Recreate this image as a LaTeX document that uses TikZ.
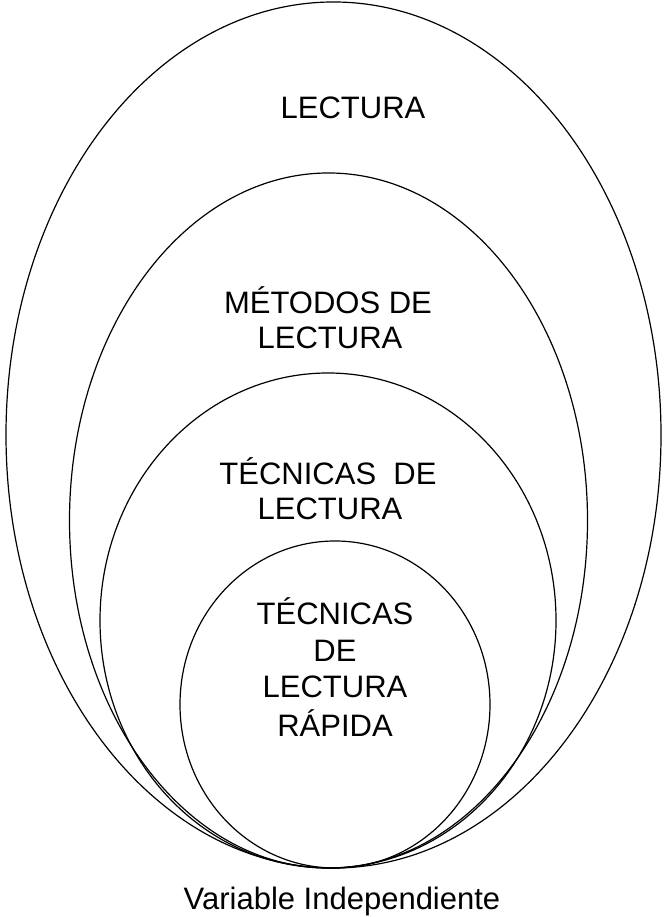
\documentclass[tikz,border=0pt]{standalone}
\usepackage{fontspec}
\setmainfont{Liberation Sans}
\begin{document}
\begin{tikzpicture}[x=1pt,y=1pt,
  ring/.style={draw=black,line width=1.2pt},
  lbl/.style={anchor=base,inner sep=0pt,font=\fontsize{31}{37}\selectfont}]
\useasboundingbox (0,0) rectangle (664,917);
\fill[white] (0,0) rectangle (664,917);
% ellipses (y measured from top -> 917 - y)
\draw[ring] (333.5,482) ellipse [x radius=327.5, y radius=433];
\draw[ring] (328.5,396.5) ellipse [x radius=259, y radius=347.5];
\draw[ring] (328,296.5) ellipse [x radius=228, y radius=247.5];
\draw[ring] (335,212.5) ellipse [x radius=155, y radius=163.5];
% labels
\node[lbl] (l1) at (353,798) {LECTURA};
\node[lbl] (m1) at (328,603) {MÉTODOS DE};
\node[lbl] (m2) at (330,568) {LECTURA};
\node[lbl] (t1) at (328,432) {TÉCNICAS\ \ DE};
\node[lbl] (t2) at (330,397) {LECTURA};
\node[lbl] (r1) at (335,292) {TÉCNICAS};
\node[lbl] (r2) at (335,255) {DE};
\node[lbl] (r3) at (335,219) {LECTURA};
\node[lbl] (r4) at (335,180) {RÁPIDA};
\node[lbl] (v) at (342,7) {Variable Independiente};
\end{tikzpicture}
\end{document}
